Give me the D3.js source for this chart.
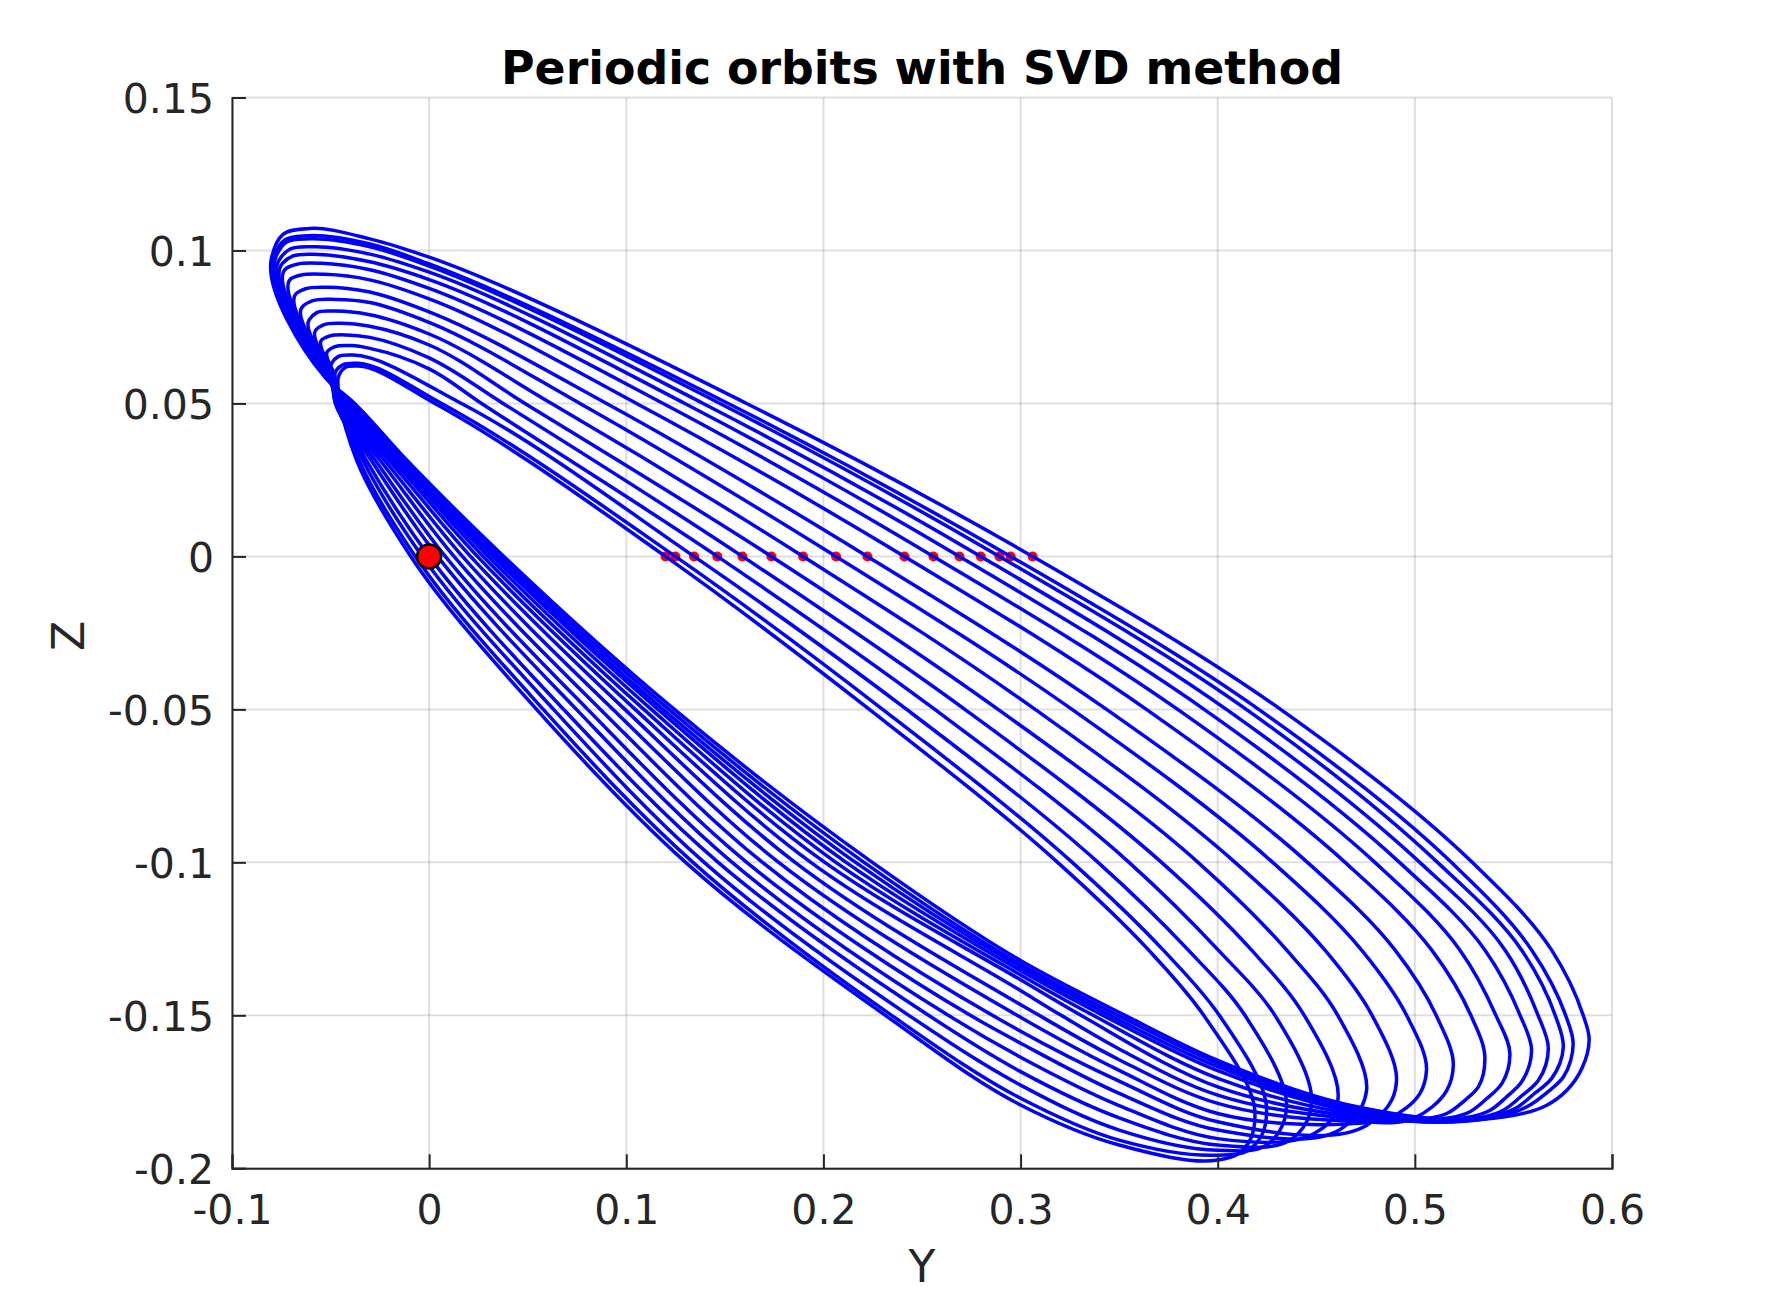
<!DOCTYPE html>
<html>
<head>
<meta charset="utf-8">
<script src="https://cdn.jsdelivr.net/npm/d3@7"></script>
<style>
  body { margin: 0; background: #fff; }
  text { font-family: "DejaVu Sans", sans-serif; }
</style>
</head>
<body>
<script>
// tick labels
const yyTicks = [-0.1, 0, 0.1, 0.2, 0.3, 0.4, 0.5, 0.6];
const zzTicks = [-0.2, -0.15, -0.1, -0.05, 0, 0.05, 0.1, 0.15];

// every array below runs from the smallest orbit to the largest one
// top of the loop, then a point just to its right at Y = -0.03
const peakY = [-.0360,-.0360,-.0385,-.0394,-.0419,-.0445,-.0478,-.0470,-.0521,-.0529,-.0546,-.0563,-.0580,-.0605,-.0614,-.0605];
const peakZ = [.0622,.0631,.0658,.0689,.0724,.0762,.0802,.0840,.0880,.0922,.0958,.0987,.1012,.1038,.1048,.1072];
const shoulderZ = [.0609,.0622,.0653,.0680,.0716,.0752,.0790,.0830,.0864,.0904,.0937,.0963,.0988,.1012,.1021,.1038];
// z where the upper edge crosses Y = 0
const upperZatY0 = [.0506,.0522,.0570,.0613,.0649,.0691,.0727,.0765,.0799,.0842,.0876,.0905,.0929,.0949,.0956,.0978];
// Y where the upper edge crosses z gridlines (z = 0 are the red points)
const upperYz05 = [.0029,.0063,.0164,.0266,.0375,.0486,.0621,.0765,.0900,.1052,.1187,.1297,.1390,.1475,.1517,.1610];
const crossY = [.1199,.1249,.1344,.1462,.1589,.1736,.1897,.2064,.2223,.2411,.2558,.2690,.2798,.2893,.2950,.3061];
const upperYm05 = [.2233,.2300,.2422,.2565,.2717,.2886,.3074,.3261,.3436,.3638,.3797,.3931,.4044,.4145,.4208,.4319];
const upperYm10 = [.3188,.3262,.3393,.3550,.3715,.3900,.4088,.4279,.4455,.4646,.4797,.4922,.5025,.5115,.5185,.5291];
const upperYm129 = [.3650,.3724,.3851,.4003,.4172,.4350,.4544,.4730,.4900,.5086,.5229,.5356,.5458,.5542,.5593,.5694];
const upperYm15 = [.3929,.4008,.4138,.4290,.4439,.4609,.4783,.4958,.5108,.5284,.5411,.5534,.5625,.5712,.5765,.5854];
// right hand tip and the turn below it
const tipY = [.4189,.4248,.4349,.4476,.4611,.4755,.4907,.5059,.5195,.5355,.5482,.5592,.5677,.5753,.5803,.5884];
const tipZ = [-.1821,-.1810,-.1799,-.1783,-.1766,-.1745,-.1712,-.1679,-.1663,-.1636,-.1625,-.1614,-.1608,-.1603,-.1592,-.1576];
const turn1Y = [.4164,.4223,.4325,.4451,.4587,.4730,.4883,.5026,.5162,.5322,.5441,.5542,.5627,.5694,.5754,.5847];
const turn1Z = [-.1908,-.1892,-.1864,-.1848,-.1832,-.1799,-.1777,-.1755,-.1745,-.1734,-.1723,-.1717,-.1712,-.1706,-.1701,-.1674];
// extra bend on the big loops
const bendY = [null,null,null,null,null,null,null,null,null,.5255,.5365,.5466,.5542,.5602,.5669,.5771];
const bendZ = [null,null,null,null,null,null,null,null,null,-.1777,-.1772,-.1766,-.1763,-.1758,-.1753,-.1745];
const turn2Y = [.4100,.4147,.4240,.4367,.4485,.4621,.4756,.4866,.4993,.5162,.5280,.5382,.5449,.5508,.5568,.5669];
const turn2Z = [-.1954,-.1944,-.1927,-.1908,-.1888,-.1873,-.1859,-.1837,-.1837,-.1821,-.1815,-.1810,-.1810,-.1805,-.1799,-.1794];
const turn3Y = [null,null,null,null,null,null,null,null,null,.4942,.5043,.5111,.5145,.5179,.5212,.5348];
const turn3Z = [null,null,null,null,null,null,null,null,null,-.1843,-.1843,-.1845,-.1848,-.1848,-.1848,-.1840];
// z at Y = 0.467, where the orbits squeeze together
const pinchZ = [null,null,null,null,null,null,null,-.1854,-.1845,-.1837,-.1829,-.1821,-.1813,-.1807,-.1800,-.1794];
// lower edge, z at Y = 0.4, 0.35, 0.3
const lowerZy40 = [-.1973,-.1957,-.1941,-.1924,-.1903,-.1875,-.1848,-.1821,-.1788,-.1761,-.1734,-.1706,-.1681,-.1668,-.1657,-.1647];
const lowerZy35 = [-.1924,-.1908,-.1875,-.1835,-.1795,-.1755,-.1715,-.1680,-.1645,-.1610];
const lowerZy30 = [-.1793,-.1771,-.1728,-.1684,-.1637,-.1591,-.1544,-.1500,-.1461,-.1419,-.1384,-.1368,-.1354,-.1343,-.1333,-.1321];
// lower edge, Y at the z gridlines and on the way up to the loop
const lowerYm15 = [.2314,.2346,.2433,.2533,.2633,.2745,.2857,.2982,.3094,.3206,.3306,.3368,.3418,.3455,.3493,.3530];
const lowerYm10 = [.1301,.1338,.1395,.1466,.1537,.1611,.1691,.1773,.1856,.1936,.2007,.2063,.2115,.2163,.2206,.2248];
const lowerYm05 = [.0545,.0579,.0631,.0682,.0747,.0804,.0869,.0933,.0993,.1045,.1089,.1127,.1161,.1187,.1216,.1244];
const lowerYz00 = [-.0093,-.0070,-.0035,0,.0043,.0082,.0126,.0169,.0210,.0245,.0274,.0300,.0323,.0340,.0360,.0379];
const lowerYz03 = [-.0368,-.0356,-.0337,-.0319,-.0295,-.0274,-.0250,-.0227,-.0205,-.0186,-.0170,-.0157,-.0146,-.0135,-.0125,-.0114];
const lowerYz05 = [-.0450,-.0456,-.0462,-.0468,-.0472,-.0475,-.0475,-.0470,-.0462,-.0452,-.0440,-.0428,-.0415,-.0402,-.0390,-.0378];
// the waist at z = 0.0587, only the loops that go on past it
const waistY = [null,null,null,-.0478,-.0484,-.0490,-.0495,-.0500,-.0505,-.0510,-.0514,-.0518,-.0521,-.0524,-.0527,-.0530];
// left hand side of the loop and the corner above it
const leftY = [-.0457,-.0470,-.0495,-.0517,-.0546,-.0575,-.0609,-.0643,-.0673,-.0698,-.0724,-.0744,-.0761,-.0778,-.0786,-.0800];
const leftZ = [.0593,.0609,.0631,.0669,.0707,.0740,.0773,.0816,.0860,.0909,.0942,.0958,.0969,.0978,.0980,.0974];
const cornerY = [-.0428,-.0436,-.0462,-.0480,-.0507,-.0536,-.0570,-.0590,-.0627,-.0648,-.0670,-.0690,-.0707,-.0725,-.0734,-.0741];
const cornerZ = [.0617,.0627,.0653,.0685,.0720,.0757,.0797,.0836,.0875,.0920,.0955,.0982,.1004,.1027,.1034,.1053];

const width = 1781, height = 1313;
const plotLeft = 232, plotRight = 1612, plotTop = 97.5, plotBottom = 1168.3;

const x = d3.scaleLinear().domain([-0.1, 0.6]).range([plotLeft, plotRight]);
const y = d3.scaleLinear().domain([-0.2, 0.15]).range([plotBottom, plotTop]);

const svg = d3.select("body").append("svg")
  .attr("width", width)
  .attr("height", height);

// grid
svg.append("g").selectAll("line").data(yyTicks).enter().append("line")
  .attr("x1", d => x(d)).attr("x2", d => x(d))
  .attr("y1", plotTop).attr("y2", plotBottom)
  .attr("stroke", "#262626").attr("stroke-opacity", 0.15).attr("stroke-width", 2);
svg.append("g").selectAll("line").data(zzTicks).enter().append("line")
  .attr("x1", plotLeft).attr("x2", plotRight)
  .attr("y1", d => y(d)).attr("y2", d => y(d))
  .attr("stroke", "#262626").attr("stroke-opacity", 0.15).attr("stroke-width", 2);

// walks round one orbit, clockwise from the top of the loop
function orbitPoints(i) {
  let pts = [[peakY[i], peakZ[i]]];
  if (i >= 3) pts.push([-0.0301, shoulderZ[i]], [0, upperZatY0[i]]);
  pts.push([upperYz05[i], 0.05], [crossY[i], 0], [upperYm05[i], -0.05],
    [upperYm10[i], -0.1], [upperYm129[i], -0.1287], [upperYm15[i], -0.15],
    [tipY[i], tipZ[i]], [turn1Y[i], turn1Z[i]]);
  if (bendY[i] !== null) pts.push([bendY[i], bendZ[i]]);
  pts.push([turn2Y[i], turn2Z[i]]);
  if (turn3Y[i] !== null) pts.push([turn3Y[i], turn3Z[i]]);
  if (pinchZ[i] !== null) pts.push([0.4671, pinchZ[i]]);
  pts.push([0.4, lowerZy40[i]]);
  if (i < lowerZy35.length) pts.push([0.35, lowerZy35[i]]);

  // Y = 0.3 falls either side of the z = -0.15 crossing
  if (Math.abs(lowerYm15[i] - 0.3) < 0.02) {
    pts.push([lowerYm15[i], -0.15]);
  } else if (lowerYm15[i] > 0.3) {
    pts.push([lowerYm15[i], -0.15], [0.3, lowerZy30[i]]);
  } else {
    pts.push([0.3, lowerZy30[i]], [lowerYm15[i], -0.15]);
  }

  pts.push([lowerYm10[i], -0.1], [lowerYm05[i], -0.05], [lowerYz00[i], 0],
    [lowerYz03[i], 0.0315], [lowerYz05[i], 0.05]);
  if (waistY[i] !== null) pts.push([waistY[i], 0.0587]);
  pts.push([leftY[i], leftZ[i]], [cornerY[i], cornerZ[i]]);
  return pts;
}

const line = d3.line()
  .x(d => x(d[0]))
  .y(d => y(d[1]))
  .curve(d3.curveCatmullRomClosed.alpha(0.8));

// small red points go under the orbits
svg.append("g").selectAll("circle").data(crossY).enter().append("circle")
  .attr("cx", d => x(d))
  .attr("cy", y(0))
  .attr("r", 5)
  .attr("fill", "#ff0000");

svg.append("g").selectAll("path").data(d3.range(crossY.length)).enter().append("path")
  .attr("d", i => line(orbitPoints(i)))
  .attr("fill", "none")
  .attr("stroke", "#0000ff")
  .attr("stroke-width", 3.5);

// the big point at the origin
svg.append("circle")
  .attr("cx", x(0))
  .attr("cy", y(0))
  .attr("r", 12)
  .attr("fill", "#ff0000")
  .attr("stroke", "#000")
  .attr("stroke-width", 2.5);

// axes
const xAxis = d3.axisBottom(x).tickValues(yyTicks).tickSize(-14).tickPadding(27).tickFormat(d => String(d));
const yAxis = d3.axisLeft(y).tickValues(zzTicks).tickSize(-14).tickPadding(18).tickFormat(d => String(d));

const gx = svg.append("g").attr("transform", `translate(0,${plotBottom})`).call(xAxis);
const gy = svg.append("g").attr("transform", `translate(${plotLeft},0)`).call(yAxis);

[gx, gy].forEach(g => {
  g.select(".domain").attr("stroke", "#262626").attr("stroke-width", 2);
  g.selectAll(".tick line").attr("stroke", "#262626").attr("stroke-width", 2);
  g.selectAll("text")
    .attr("fill", "#262626")
    .style("font-family", '"DejaVu Sans", sans-serif')
    .style("font-size", "41px");
});
gy.selectAll("text").attr("dy", "0.37em");

svg.append("text")
  .attr("x", x(0.25))
  .attr("y", 1282)
  .attr("text-anchor", "middle")
  .attr("fill", "#262626")
  .style("font-size", "44px")
  .text("Y");

svg.append("text")
  .attr("transform", `translate(84,636) rotate(-90)`)
  .attr("text-anchor", "middle")
  .attr("fill", "#262626")
  .style("font-size", "44px")
  .text("Z");

svg.append("text")
  .attr("x", 922)
  .attr("y", 84)
  .attr("text-anchor", "middle")
  .attr("fill", "#000")
  .style("font-size", "45.8px")
  .style("font-weight", "bold")
  .text("Periodic orbits with SVD method");
</script>
</body>
</html>
